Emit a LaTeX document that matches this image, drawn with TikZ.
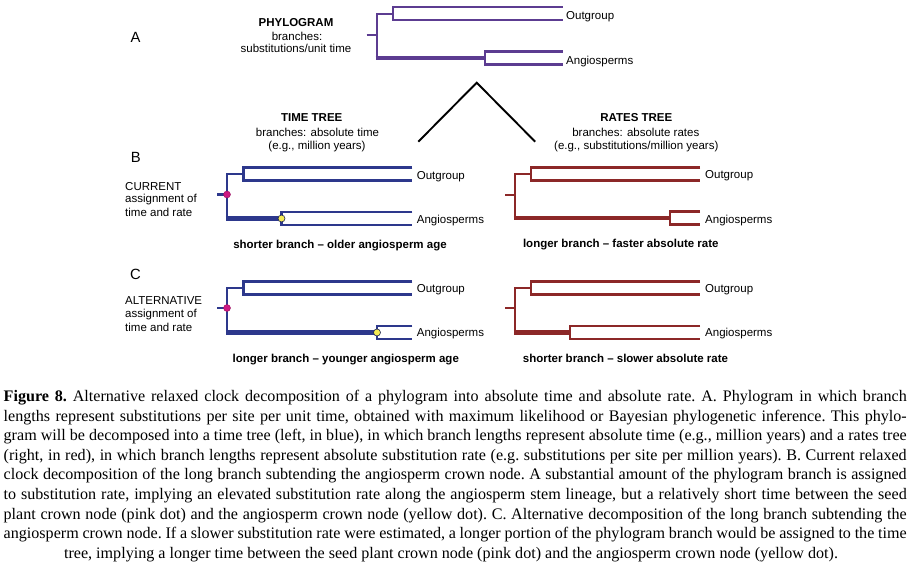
\documentclass[tikz,border=0pt]{standalone}
\usepackage{fontspec}
\setmainfont{Liberation Serif}
\newfontfamily\arialfont{Liberation Sans}
\definecolor{purp}{RGB}{92,60,145}
\definecolor{blu}{RGB}{45,56,140}
\definecolor{redc}{RGB}{140,40,40}
\definecolor{pinkc}{RGB}{205,25,130}
\definecolor{yellowc}{RGB}{245,235,85}
\newcommand\capline[1]{\hbox to 903pt{\frenchspacing\spaceskip=0.25em plus 0.3em minus 0.12em\relax #1}}
\newcommand\drawphylotree[9]{%
  \coordinate (#1-stub) at ({#2-10},#3);
  \coordinate (#1-root) at (#2,#3);
  \coordinate (#1-top) at (#2,#4);
  \coordinate (#1-bot) at (#2,#5);
  \coordinate (#1-og) at (#6,#4);
  \coordinate (#1-an) at (#7,#5);
  \coordinate (#1-og1) at (#8,{#4-6.5});
  \coordinate (#1-og2) at (#8,{#4+6.5});
  \coordinate (#1-an1) at (#8,{#5-6.5});
  \coordinate (#1-an2) at (#8,{#5+6.5});
  \draw[branch,#9] (#1-stub) -- (#1-root);
  \draw[branch,#9] (#1-og) -- (#1-top) -- ([yshift=-1.2pt]#1-bot);
  \draw[branch,#9] (#1-og1) -| (#1-og) |- (#1-og2);
  \draw[thickbranch,#9] ([xshift=-1.1pt]#1-bot) -- (#1-an);
  \draw[branch,#9] (#1-an1) -| (#1-an) |- (#1-an2);
}
\tikzset{
  branch/.style={line width=2.2pt, line join=miter},
  thickbranch/.style={line width=4.4pt},
  lab/.style={font=\arialfont\fontsize{11.5}{13}\selectfont, inner sep=0pt, anchor=base west},
  labc/.style={font=\arialfont\fontsize{11.5}{13}\selectfont, inner sep=0pt, anchor=base},
  labb/.style={font=\arialfont\bfseries\fontsize{11.5}{13}\selectfont, inner sep=0pt, anchor=base},
  panel/.style={font=\arialfont\fontsize{14.8}{16}\selectfont, inner sep=0pt, anchor=base west},
  capl/.style={font=\fontsize{16.1}{19.6}\selectfont, inner sep=0pt, anchor=base west},
  capc/.style={font=\fontsize{16.1}{19.6}\selectfont, inner sep=0pt, anchor=base},
  pinkdot/.style={circle, fill=pinkc, draw=pinkc!75!black, line width=0.4pt, inner sep=0pt, minimum size=7pt},
  yellowdot/.style={circle, fill=yellowc, draw=blu!60!black, line width=0.6pt, inner sep=0pt, minimum size=7pt},
  vline/.style={line width=1.9pt, black}
}
\begin{document}
\begin{tikzpicture}[x=1pt,y=-1pt]
\useasboundingbox (0,0) rectangle (916,568);
\fill[white] (0,0) rectangle (916,568);

% ---------- A: phylogram ----------
\node[panel] (pA) at (130.5,42.3) {A};
\node[labb] (phT) at (296,26) {PHYLOGRAM};
\node[labc] (ph1) at (297,40.7) {branches:};
\node[labc] (ph2) at (296,52.7) {substitutions/unit time};
\drawphylotree{A}{376.7}{35}{13.7}{58}{393.3}{485}{562.5}{purp}
\node[lab] (Aog) at (566,19) {Outgroup};
\node[lab] (Aan) at (566,64) {Angiosperms};

% ---------- split ----------
\coordinate (vapex) at (476.7,82.7);
\coordinate (vleft) at (418.3,141.7);
\coordinate (vright) at (535.2,141.7);
\draw[vline] (vleft) -- (vapex) -- (vright);

% ---------- headings ----------
\node[labb] (ttT) at (311.7,121.7) {TIME TREE};
\node[labc] (tt1) at (317.5,136.7) {branches: absolute time};
\node[labc] (tt2) at (317,149.3) {(e.g., million years)};
\node[labb] (rtT) at (636.3,121.7) {RATES TREE};
\node[labc] (rt1) at (635.8,136.7) {branches: absolute rates};
\node[labc] (rt2) at (636.3,149.3) {(e.g., substitutions/million years)};

% ---------- B ----------
\node[panel] (pB) at (130.7,162.7) {B};
\node[lab] (cu1) at (125,190) {CURRENT};
\node[lab] (cu2) at (125,202.7) {assignment of};
\node[lab] (cu3) at (125,216) {time and rate};
\drawphylotree{BL}{227}{194.5}{174}{218.5}{243.5}{281.5}{412.3}{blu}
\node[pinkdot] (BLpink) at (BL-root) {};
\node[yellowdot] (BLyel) at (BL-an) {};
\node[lab] (BLog) at (416.7,179) {Outgroup};
\node[lab] (BLan) at (416.7,223) {Angiosperms};
\node[labb] (BLcap) at (340,248.3) {shorter branch \textendash\ older angiosperm age};

\drawphylotree{BR}{515}{195}{174}{218}{531}{670}{700}{redc}
\node[lab] (BRog) at (705,178.3) {Outgroup};
\node[lab] (BRan) at (705,223.3) {Angiosperms};
\node[labb] (BRcap) at (620.8,247.3) {longer branch \textendash\ faster absolute rate};

% ---------- C ----------
\node[panel] (pC) at (130,279) {C};
\node[lab] (al1) at (125,304) {ALTERNATIVE};
\node[lab] (al2) at (125,317.3) {assignment of};
\node[lab] (al3) at (125,331) {time and rate};
\drawphylotree{CL}{227}{308}{288}{332.5}{243.5}{377}{412.3}{blu}
\node[pinkdot] (CLpink) at (CL-root) {};
\node[yellowdot] (CLyel) at (CL-an) {};
\node[lab] (CLog) at (416.7,292.3) {Outgroup};
\node[lab] (CLan) at (416.7,336.7) {Angiosperms};
\node[labb] (CLcap) at (345.8,362.3) {longer branch \textendash\ younger angiosperm age};

\drawphylotree{CR}{515}{308}{288}{332.5}{531}{570}{700}{redc}
\node[lab] (CRog) at (705,292.3) {Outgroup};
\node[lab] (CRan) at (705,336.7) {Angiosperms};
\node[labb] (CRcap) at (625.5,362.3) {shorter branch \textendash\ slower absolute rate};

% ---------- caption ----------
\node[capl] (c1) at (3.5,401.5) {\capline{\textbf{Figure 8.} Alternative relaxed clock decomposition of a phylogram into absolute time and absolute rate. A. Phylogram in which branch}};
\node[capl] (c2) at (3.5,421.1) {\capline{lengths represent substitutions per site per unit time, obtained with maximum likelihood or Bayesian phylogenetic inference. This phylo-}};
\node[capl] (c3) at (3.5,440.7) {\capline{gram will be decomposed into a time tree (left, in blue), in which branch lengths represent absolute time (e.g., million years) and a rates tree}};
\node[capl] (c4) at (3.5,460.3) {\capline{(right, in red), in which branch lengths represent absolute substitution rate (e.g. substitutions per site per million years). B. Current relaxed}};
\node[capl] (c5) at (3.5,479.9) {\capline{clock decomposition of the long branch subtending the angiosperm crown node. A substantial amount of the phylogram branch is assigned}};
\node[capl] (c6) at (3.5,499.5) {\capline{to substitution rate, implying an elevated substitution rate along the angiosperm stem lineage, but a relatively short time between the seed}};
\node[capl] (c7) at (3.5,519.1) {\capline{plant crown node (pink dot) and the angiosperm crown node (yellow dot). C. Alternative decomposition of the long branch subtending the}};
\node[capl] (c8) at (3.5,538.7) {\capline{angiosperm crown node. If a slower substitution rate were estimated, a longer portion of the phylogram branch would be assigned to the time}};
\node[capc] (c9) at (451,558.3) {tree, implying a longer time between the seed plant crown node (pink dot) and the angiosperm crown node (yellow dot).};
\end{tikzpicture}
\end{document}
